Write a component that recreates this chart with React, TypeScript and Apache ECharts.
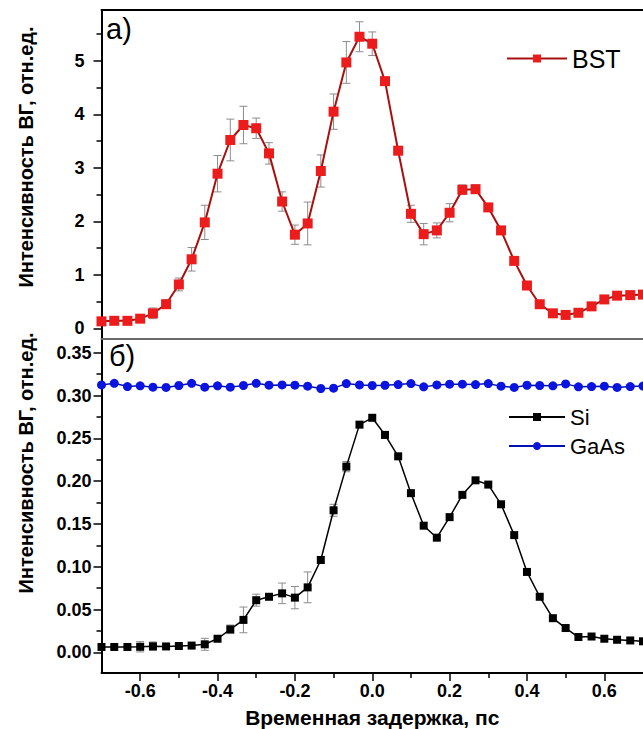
import React, { useEffect, useRef } from "react";
import * as echarts from "echarts";

// Delay values, ps
const delays = [
  -0.7, -0.667, -0.633, -0.6, -0.567, -0.533, -0.5, -0.467, -0.433, -0.4, -0.367,
  -0.333, -0.3, -0.267, -0.233, -0.2, -0.167, -0.133, -0.1, -0.067, -0.033, 0.0,
  0.033, 0.067, 0.1, 0.133, 0.167, 0.2, 0.233, 0.267, 0.3, 0.333, 0.367, 0.4,
  0.433, 0.467, 0.5, 0.533, 0.567, 0.6, 0.633, 0.667, 0.7,
];

// Panel a) BST
const bstValues = [
  0.13, 0.14, 0.14, 0.18, 0.28, 0.45, 0.82, 1.29, 1.98, 2.89, 3.52,
  3.8, 3.74, 3.27, 2.37, 1.75, 1.96, 2.94, 4.05, 4.97, 5.45, 5.32,
  4.62, 3.32, 2.14, 1.76, 1.83, 2.16, 2.59, 2.6, 2.26, 1.83, 1.26, 0.8,
  0.45, 0.28, 0.25, 0.29, 0.41, 0.54, 0.61, 0.62, 0.63,
];
const bstErrors = [
  0, 0, 0, 0.03, 0.1, 0.08, 0.12, 0.22, 0.32, 0.34, 0.39,
  0.35, 0.19, 0.2, 0.18, 0.18, 0.4, 0.3, 0.33, 0.39, 0.28, 0.22,
  0.05, 0.05, 0.16, 0.2, 0.14, 0.17, 0.09, 0.08, 0.05, 0.05, 0.03, 0.03,
  0.03, 0.03, 0.03, 0.03, 0.03, 0.05, 0.03, 0.03, 0.03,
];

// Panel б) Si and GaAs
const siValues = [
  0.0064, 0.0064, 0.0064, 0.0066, 0.0072, 0.007, 0.0075, 0.008, 0.0095, 0.016, 0.027,
  0.038, 0.061, 0.065, 0.069, 0.064, 0.076, 0.108, 0.166, 0.217, 0.266, 0.274,
  0.254, 0.229, 0.186, 0.148, 0.134, 0.158, 0.184, 0.201, 0.196, 0.173, 0.137, 0.094,
  0.065, 0.04, 0.0285, 0.018, 0.0186, 0.016, 0.0148, 0.014, 0.013,
];
const siErrors = [
  0, 0, 0, 0.006, 0.005, 0, 0, 0, 0.007, 0, 0.005,
  0.015, 0.007, 0.003, 0.012, 0.013, 0.018, 0.004, 0.007, 0.006, 0.003, 0,
  0, 0, 0, 0, 0, 0, 0, 0, 0, 0, 0, 0,
  0, 0, 0, 0, 0, 0, 0, 0, 0,
];
const gaasValues = [
  0.3124, 0.3143, 0.3105, 0.3113, 0.3098, 0.3094, 0.3117, 0.3143, 0.3098, 0.3113, 0.3098,
  0.3117, 0.3143, 0.3121, 0.3124, 0.3121, 0.3109, 0.3082, 0.3086, 0.3139, 0.3124, 0.3117,
  0.312, 0.3128, 0.3139, 0.3101, 0.3124, 0.3132, 0.3132, 0.3128, 0.3139, 0.3109, 0.3094, 0.312,
  0.3117, 0.3113, 0.3136, 0.3101, 0.3105, 0.3109, 0.3094, 0.3105, 0.311,
];

// Ticks
const xMajorTicks = [-0.6, -0.4, -0.2, 0.0, 0.2, 0.4, 0.6];
const xMinorTicks = [-0.5, -0.3, -0.1, 0.1, 0.3, 0.5];
const yTopMajor = [0, 1, 2, 3, 4, 5];
const yTopMinor = [0.5, 1.5, 2.5, 3.5, 4.5, 5.5];
const yBotMajor = [0, 0.05, 0.1, 0.15, 0.2, 0.25, 0.3, 0.35];
const yBotMinor = [0.025, 0.075, 0.125, 0.175, 0.225, 0.275, 0.325];

const FONT = "'Liberation Sans', Arial, sans-serif";
const yTitle = "Интенсивность ВГ, отн.ед.";
const xTitle = "Временная задержка, пс";

function errRender(params: any, api: any) {
  const x = api.value(0);
  const lo = api.value(1);
  const hi = api.value(2);
  const p1 = api.coord([x, lo]);
  const p2 = api.coord([x, hi]);
  const w = 4;
  const style = { stroke: "#8c8c8c", lineWidth: 1 };
  return {
    type: "group",
    children: [
      { type: "line", shape: { x1: p1[0], y1: p1[1], x2: p2[0], y2: p2[1] }, style },
      { type: "line", shape: { x1: p1[0] - w, y1: p1[1], x2: p1[0] + w, y2: p1[1] }, style },
      { type: "line", shape: { x1: p2[0] - w, y1: p2[1], x2: p2[0] + w, y2: p2[1] }, style },
    ],
  };
}

export default function App() {
  const ref = useRef<HTMLDivElement>(null);
  useEffect(() => {
    document.body.style.margin = "0";
    if (!ref.current) return;
    const chart = echarts.init(ref.current, null, { renderer: "svg" });

    const hiddenAxisBase = {
      axisLabel: { show: false },
      axisTick: { show: false },
      splitLine: { show: false },
    };
    const tickLabel = { color: "#000", fontSize: 18, fontWeight: "bold", fontFamily: FONT };

    const option: any = {
      animation: false,
      backgroundColor: "#fff",
      grid: [
        { left: 101.5, right: -8, top: 10, height: 329 },
        { left: 101.5, right: -8, top: 339, height: 341 },
      ],
      xAxis: [
        {
          gridIndex: 0, type: "value", min: -0.7, max: 0.7, position: "bottom",
          ...hiddenAxisBase,
          axisLine: { show: true, onZero: false, lineStyle: { color: "#6a6a6a", width: 2 } },
        },
        {
          gridIndex: 0, type: "value", min: -0.7, max: 0.7, position: "top",
          ...hiddenAxisBase,
          axisLine: { show: true, onZero: false, lineStyle: { color: "#000", width: 2 } },
        },
        {
          gridIndex: 1, type: "value", min: -0.7, max: 0.7, position: "bottom",
          splitLine: { show: false },
          axisLine: { show: true, onZero: false, lineStyle: { color: "#000", width: 2 } },
          axisTick: { show: true, customValues: xMajorTicks, length: 8, lineStyle: { color: "#000", width: 1.5 } },
          axisLabel: {
            show: true, customValues: xMajorTicks, margin: 9,
            formatter: (v: number) => v.toFixed(1),
            ...tickLabel,
          },
          name: xTitle, nameLocation: "middle", nameGap: 34,
          nameTextStyle: { color: "#000", fontSize: 21, fontWeight: "bold", fontFamily: FONT },
        },
        {
          gridIndex: 1, type: "value", min: -0.7, max: 0.7, position: "bottom",
          splitLine: { show: false }, axisLabel: { show: false },
          axisLine: { show: false, onZero: false },
          axisTick: { show: true, customValues: xMinorTicks, length: 5, lineStyle: { color: "#000", width: 1.5 } },
        },
      ],
      yAxis: [
        {
          gridIndex: 0, type: "value", min: -0.2, max: 5.95, position: "left",
          splitLine: { show: false },
          axisLine: { show: true, onZero: false, lineStyle: { color: "#000", width: 2 } },
          axisTick: { show: true, customValues: yTopMajor, length: 8, lineStyle: { color: "#000", width: 1.5 } },
          axisLabel: { show: true, customValues: yTopMajor, margin: 17, ...tickLabel },
        },
        {
          gridIndex: 0, type: "value", min: -0.2, max: 5.95, position: "left",
          splitLine: { show: false }, axisLabel: { show: false },
          axisLine: { show: false, onZero: false },
          axisTick: { show: true, customValues: yTopMinor, length: 5, lineStyle: { color: "#000", width: 1.5 } },
        },
        {
          gridIndex: 1, type: "value", min: -0.024, max: 0.366, position: "left",
          splitLine: { show: false },
          axisLine: { show: true, onZero: false, lineStyle: { color: "#000", width: 2 } },
          axisTick: { show: true, customValues: yBotMajor, length: 8, lineStyle: { color: "#000", width: 1.5 } },
          axisLabel: {
            show: true, customValues: yBotMajor, margin: 10,
            formatter: (v: number) => v.toFixed(2),
            ...tickLabel,
          },
        },
        {
          gridIndex: 1, type: "value", min: -0.024, max: 0.366, position: "left",
          splitLine: { show: false }, axisLabel: { show: false },
          axisLine: { show: false, onZero: false },
          axisTick: { show: true, customValues: yBotMinor, length: 5, lineStyle: { color: "#000", width: 1.5 } },
        },
      ],
      legend: [
        {
          data: ["BST"], left: 501, top: 41, itemWidth: 60, itemHeight: 10,
          selectedMode: false,
          textStyle: { color: "#000", fontSize: 25, fontFamily: FONT },
        },
        {
          data: ["Si", "GaAs"], orient: "vertical", left: 503, top: 401,
          itemWidth: 56, itemHeight: 10, itemGap: 7, selectedMode: false,
          textStyle: { color: "#000", fontSize: 22, fontFamily: FONT },
        },
      ],
      graphic: [
        { type: "text", left: 106, top: 14, style: { text: "а)", fontSize: 29, fill: "#000", fontFamily: FONT } },
        { type: "text", left: 109, top: 341, style: { text: "б)", fontSize: 29, fill: "#000", fontFamily: FONT } },
        {
          type: "text", x: 26, y: 157, rotation: Math.PI / 2,
          style: { text: yTitle, fontSize: 20, fontWeight: "bold", fill: "#000", fontFamily: FONT, textAlign: "center", textVerticalAlign: "middle" },
        },
        {
          type: "text", x: 26, y: 463, rotation: Math.PI / 2,
          style: { text: yTitle, fontSize: 20, fontWeight: "bold", fill: "#000", fontFamily: FONT, textAlign: "center", textVerticalAlign: "middle" },
        },
      ],
      series: [
        {
          type: "custom", name: "BST err", xAxisIndex: 0, yAxisIndex: 0, z: 1,
          renderItem: errRender, encode: { x: 0, y: [1, 2] },
          data: delays
            .map((x, i) => [x, bstValues[i] - bstErrors[i], bstValues[i] + bstErrors[i], bstErrors[i]])
            .filter((d) => d[3] > 0),
        },
        {
          type: "line", name: "BST", xAxisIndex: 0, yAxisIndex: 0, z: 3,
          data: delays.map((x, i) => [x, bstValues[i]]),
          symbol: "rect", symbolSize: 10,
          itemStyle: { color: "#ec1c1c" },
          lineStyle: { color: "#a81010", width: 2 },
          clip: true,
        },
        {
          type: "custom", name: "Si err", xAxisIndex: 2, yAxisIndex: 2, z: 1,
          renderItem: errRender, encode: { x: 0, y: [1, 2] },
          data: delays
            .map((x, i) => [x, siValues[i] - siErrors[i], siValues[i] + siErrors[i], siErrors[i]])
            .filter((d) => d[3] > 0),
        },
        {
          type: "line", name: "Si", xAxisIndex: 2, yAxisIndex: 2, z: 3,
          data: delays.map((x, i) => [x, siValues[i]]),
          symbol: "rect", symbolSize: 8,
          itemStyle: { color: "#000" },
          lineStyle: { color: "#000", width: 1.5 },
          clip: true,
        },
        {
          type: "line", name: "GaAs", xAxisIndex: 2, yAxisIndex: 2, z: 3,
          data: delays.map((x, i) => [x, gaasValues[i]]),
          symbol: "circle", symbolSize: 9,
          itemStyle: { color: "#0a14e0" },
          lineStyle: { color: "#0010b0", width: 1.5 },
          clip: true,
        },
      ],
    };
    chart.setOption(option);
    return () => chart.dispose();
  }, []);
  return <div ref={ref} style={{ width: 643, height: 729 }} />;
}
